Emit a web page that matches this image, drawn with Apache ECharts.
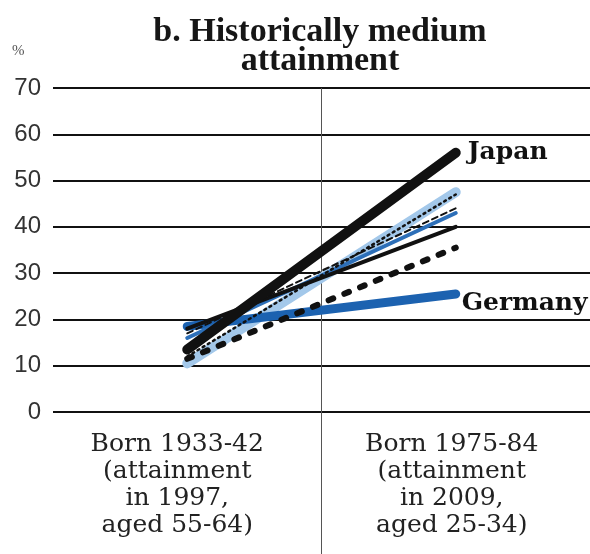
<!DOCTYPE html>
<html>
<head>
<meta charset="utf-8">
<script src="https://cdn.jsdelivr.net/npm/echarts@6/dist/echarts.min.js"></script>
<style>
  html, body { margin: 0; padding: 0; background: #fff; }
  #box { width: 590px; height: 554px; }
</style>
</head>
<body>
<div id="box"></div>
<script>
// categories (cohorts)
var cohorts = ['Born 1933-42\n(attainment\nin 1997,\naged 55-64)', 'Born 1975-84\n(attainment\nin 2009,\naged 25-34)'];
var yTicks = [0, 10, 20, 30, 40, 50, 60, 70];

// values, %
var lightBlue = [10.5, 47.5];
var dotted = [12, 47];
var dashedThin = [17, 44];
var midBlue = [16, 43];
var blackMid = [18, 40];
var bigDots = [11.5, 35.5];
var germany = [18.5, 25.5];
var japan = [13.5, 56];

var serif = '"DejaVu Serif", "Liberation Serif", serif';
var titleFont = '"Liberation Serif", "DejaVu Serif", serif';
// divider between the two cohorts only (no line on the left edge)
var divider = ['rgba(0,0,0,0)', '#555', 'rgba(0,0,0,0)'];
// labels sit a little left of the category centre in the original
var labelPad = [[0, 20, 0, 0], [0, 8, 0, 0]];

function line(name, data, color, width, type, z, label) {
    var s = {
        name: name,
        type: 'line',
        data: data,
        symbol: 'none',
        z: z,
        lineStyle: { color: color, width: width, type: type, cap: 'round' },
        emphasis: { disabled: true }
    };
    if (label) {
        s.endLabel = {
            show: true,
            formatter: '{a}',
            color: '#111',
            fontFamily: serif,
            fontWeight: 'bold',
            fontSize: 25,
            distance: 10,
            offset: label
        };
    }
    return s;
}

var myChart = echarts.init(document.getElementById('box'));
var option = {
    animation: false,
    title: {
        text: 'b. Historically medium\nattainment',
        left: 315,
        textAlign: 'center',
        top: 13,
        textStyle: {
            fontFamily: titleFont,
            fontWeight: 'bold',
            fontSize: 34,
            lineHeight: 29,
            color: '#161616'
        }
    },
    grid: [
        { left: 53, right: 0, top: 88, bottom: 142, containLabel: false },
        { left: 53, right: 0, top: 412, bottom: 0, containLabel: false }
    ],
    xAxis: [{
        type: 'category',
        data: cohorts.map(function (c, i) {
            return { value: c, textStyle: { padding: labelPad[i] } };
        }),
        boundaryGap: true,
        axisLine: { show: false },
        axisTick: { show: false },
        splitLine: {
            show: true,
            interval: 0,
            lineStyle: { color: divider, width: 1 }
        },
        axisLabel: {
            interval: 0,
            margin: 19,
            fontFamily: serif,
            fontSize: 25,
            lineHeight: 27,
            color: '#222'
        }
    }, {
        type: 'category',
        gridIndex: 1,
        data: cohorts,
        boundaryGap: true,
        axisLine: { show: false },
        axisTick: { show: false },
        axisLabel: { show: false },
        splitLine: {
            show: true,
            interval: 0,
            lineStyle: { color: divider, width: 1 }
        }
    }],
    yAxis: [{
        type: 'value',
        min: 0,
        max: 70,
        interval: 10,
        name: '%',
        nameLocation: 'end',
        nameGap: 29,
        nameTextStyle: {
            fontFamily: titleFont,
            fontSize: 15,
            color: '#555',
            align: 'left',
            padding: [0, 0, 0, -41]
        },
        axisLine: { show: false },
        axisTick: { show: false },
        axisLabel: {
            margin: 12,
            fontFamily: '"Liberation Sans", Arial, sans-serif',
            fontSize: 24,
            color: '#333'
        },
        splitLine: { lineStyle: { color: '#111', width: 2 } }
    }, {
        type: 'value',
        gridIndex: 1,
        show: false
    }],
    series: [
        line('lightBlue', lightBlue, '#a3c8ea', 10, 'solid', 2),
        line('Germany', germany, '#1c62b0', 9, 'solid', 3, [-4, 10]),
        line('midBlue', midBlue, '#2d6fb8', 4, 'solid', 4),
        line('blackMid', blackMid, '#111', 4, 'solid', 5),
        line('dashedThin', dashedThin, '#111', 2, [6, 4], 6),
        line('dotted', dotted, '#111', 2.5, [2, 4], 7),
        line('bigDots', bigDots, '#111', 6, [5, 12], 8),
        line('Japan', japan, '#111', 10, 'solid', 9, [2, 0])
    ]
};
option && myChart.setOption(option);
</script>
</body>
</html>
